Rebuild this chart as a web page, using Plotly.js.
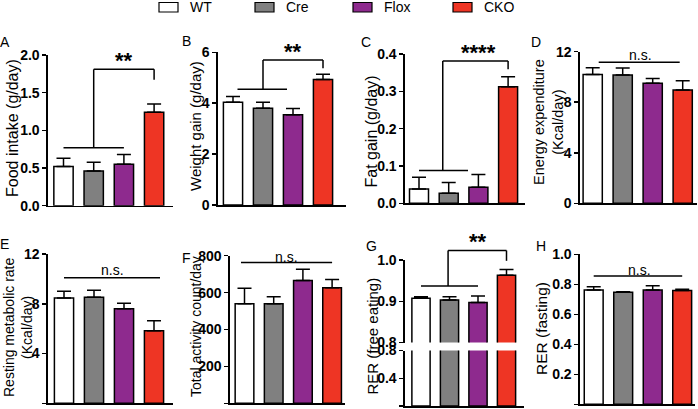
<!DOCTYPE html>
<html>
<head>
<meta charset="utf-8">
<script src="https://cdn.plot.ly/plotly-3.0.1.min.js"></script>
<style>
  html, body { margin: 0; padding: 0; background: #fff; }
  #chart { width: 698px; height: 409px; }
</style>
</head>
<body>
<div id="chart"></div>
<script>
// groups
const groups = ['WT', 'Cre', 'Flox', 'CKO'];
const groupColors = ['#ffffff', '#808080', '#8e2a8e', '#ee3524'];

// mean and SEM per panel
const foodIntake = [0.52, 0.46, 0.55, 1.24];
const foodIntakeSem = [0.11, 0.115, 0.13, 0.11];
const weightGain = [4.04, 3.80, 3.55, 4.93];
const weightGainSem = [0.22, 0.24, 0.24, 0.21];
const fatGain = [0.038, 0.027, 0.043, 0.312];
const fatGainSem = [0.032, 0.029, 0.034, 0.027];
const energyExp = [10.2, 10.16, 9.5, 8.97];
const energyExpSem = [0.53, 0.54, 0.37, 0.73];
const restingRate = [8.46, 8.52, 7.6, 5.84];
const restingRateSem = [0.54, 0.56, 0.44, 0.8];
const activity = [540, 540, 666, 626];
const activitySem = [83, 38, 61, 45];
const rerFree = [0.907, 0.903, 0.897, 0.963];
const rerFreeSem = [0.004, 0.008, 0.016, 0.014];
const rerFasting = [0.762, 0.747, 0.762, 0.758];
const rerFastingSem = [0.022, 0.004, 0.029, 0.009];

const W = 698, H = 409;
const px = v => v / W;
const py = v => 1 - v / H;
const FONT = 'Arial, Liberation Sans, sans-serif';

// panel layout: axis pixels, first bar centre, bar step
const panels = [
  {id: 1, letter: 'A', vals: foodIntake, sem: foodIntakeSem, c0: 63.5, step: 30.2, x0: 48, x1: 173, top: 55, bot: 205.7, range: [0, 2], dtick: 0.5, dec: 1,
   title: 'Food intake (g/day)', ts: 16, tx: 12, ty: 128, lx: 5, ly: 42},
  {id: 2, letter: 'B', vals: weightGain, sem: weightGainSem, c0: 233, step: 30, x0: 218, x1: 346, top: 52.3, bot: 205, range: [0, 6], dtick: 2, dec: 0,
   title: 'Weight gain (g/day)', ts: 15, tx: 196, ty: 126, lx: 186, ly: 41},
  {id: 3, letter: 'C', vals: fatGain, sem: fatGainSem, c0: 419, step: 29.7, x0: 405, x1: 525, top: 54, bot: 203.3, range: [0, 0.4], dtick: 0.1, dec: 1,
   title: 'Fat gain (g/day)', ts: 16, tx: 371.5, ty: 132, lx: 366, ly: 42},
  {id: 4, letter: 'D', vals: energyExp, sem: energyExpSem, c0: 592.7, step: 30, x0: 580, x1: 697, top: 51.7, bot: 203.3, range: [0, 12], dtick: 4, dec: 0,
   title: 'Energy expenditure<br>(Kcal/day)', ts: 14.5, tx: 549, ty: 122, lx: 536, ly: 42},
  {id: 5, letter: 'E', vals: restingRate, sem: restingRateSem, c0: 64, step: 30, x0: 48, x1: 173, top: 254, bot: 403.3, range: [0, 12], dtick: 4, dec: 0,
   title: 'Resting metabolic rate<br>(Kcal/day)', ts: 14, tx: 17.5, ty: 327.5, lx: 4, ly: 244},
  {id: 6, letter: 'F', vals: activity, sem: activitySem, c0: 244.5, step: 29.2, x0: 230, x1: 345, top: 255.7, bot: 403.3, range: [0, 800], dtick: 200, dec: 0,
   title: 'Total activity count/day', ts: 14, tx: 196, ty: 327, lx: 186.5, ly: 257.5},
  {id: 7, letter: 'G', vals: rerFree, sem: rerFreeSem, c0: 421, step: 28.5, x0: 405, x1: 524, top: 260, bot: 342.5, range: [0.8, 1.0], dtick: 0.1, dec: 1,
   title: 'RER (free eating)', ts: 15, tx: 371.5, ty: 336, lx: 371, ly: 246},
  {id: 8, letter: 'H', vals: rerFasting, sem: rerFastingSem, c0: 593.7, step: 29.5, x0: 580, x1: 695, top: 254.3, bot: 404.3, range: [0, 1], dtick: 0.2, dec: 1,
   title: 'RER (fasting)', ts: 15.5, tx: 541.5, ty: 328.5, lx: 541, ly: 246}
];
// lower segment of the broken axis in G
const gLower = {top: 350.5, bot: 406, range: [0, 0.8], dtick: 0.4, dec: 1};

// significance brackets and n.s. lines (category units, data values)
const brackets = [
  {p: 1, lo: [0, 2], ly: 0.77, stem: 1, top: 1.81, drop: 1.67, text: '**', tx: 2, ty: 1.93},
  {p: 2, lo: [0.15, 1.8], ly: 4.55, stem: 1, top: 5.7, drop: 5.37, text: '**', tx: 2, ty: 6.05},
  {p: 3, lo: [0, 1.65], ly: 0.088, stem: 0.8, top: 0.381, drop: 0.359, text: '****', tx: 2, ty: 0.403},
  {p: 7, lo: [0, 2], ly: 0.937, stem: 0.95, top: 1.023, drop: 0.998, text: '**', tx: 2, ty: 1.044}
];
const nsLines = [
  {p: 4, lo: [0.2, 2.9], ly: 11.16, tx: 1.6, ty: 11.75},
  {p: 5, lo: [0, 3.2], ly: 10.1, tx: 1.6, ty: 10.7},
  {p: 6, lo: [-0.12, 3.0], ly: 763, tx: 1.45, ty: 795},
  {p: 8, lo: [0, 3], ly: 0.856, tx: 1.55, ty: 0.895}
];

const xcat = [0, 1, 2, 3];
const traces = [];
const layout = {
  width: W, height: H,
  margin: {l: 0, r: 0, t: 0, b: 0},
  paper_bgcolor: '#fff', plot_bgcolor: 'rgba(0,0,0,0)',
  showlegend: false,
  bargap: 0.36,
  font: {family: FONT, color: '#000'},
  shapes: [], annotations: []
};

function barTrace(p, xa, ya) {
  return {
    type: 'bar', x: xcat, y: p.vals, xaxis: xa, yaxis: ya,
    width: 0.64,
    marker: {color: groupColors, line: {color: '#000', width: 1.5}},
    error_y: {type: 'data', symmetric: false, array: p.sem, arrayminus: [0, 0, 0, 0],
              color: '#000', thickness: 1.5, width: 7},
    hoverinfo: 'skip'
  };
}

function yAxis(p, top, bot, anchor) {
  const vals = [];
  for (let v = p.range[0]; v <= p.range[1] + 1e-9; v += p.dtick) vals.push(+v.toFixed(6));
  return {
    domain: [py(bot), py(top)], range: p.range, anchor: anchor,
    showline: true, linewidth: 1.6, linecolor: '#000',
    ticks: 'outside', ticklen: 4, tickwidth: 1.5, tickcolor: '#000',
    tickmode: 'array', tickvals: vals,
    ticktext: vals.map(v => '<b>' + v.toFixed(p.dec) + '</b>'),
    tickfont: {family: FONT, size: 14, weight: 'bold', color: '#000'},
    showgrid: false, zeroline: false, fixedrange: true
  };
}

panels.forEach(p => {
  const xa = 'x' + p.id, ya = 'y' + p.id;
  traces.push(barTrace(p, xa, ya));
  const xr = [(p.x0 - p.c0) / p.step, (p.x1 - p.c0) / p.step];
  layout['xaxis' + p.id] = {
    domain: [px(p.x0), px(p.x1)], range: xr, anchor: p.id === 7 ? 'y9' : ya,
    showline: true, linewidth: 1.6, linecolor: '#000',
    showticklabels: false, ticks: '', showgrid: false, zeroline: false, fixedrange: true
  };
  layout['yaxis' + p.id] = yAxis(p, p.top, p.bot, xa);

  layout.annotations.push({
    xref: 'paper', yref: 'paper', x: px(p.tx), y: py(p.ty),
    text: p.title, textangle: -90, showarrow: false,
    xanchor: 'center', yanchor: 'middle',
    font: {family: FONT, size: p.ts, color: '#000'}
  });
  layout.annotations.push({
    xref: 'paper', yref: 'paper', x: px(p.lx), y: py(p.ly),
    text: p.letter, showarrow: false, xanchor: 'center', yanchor: 'middle',
    font: {family: FONT, size: 14, color: '#000'}
  });
});

// broken axis: lower part of G
const g = panels[6];
traces.push(barTrace(g, 'x7', 'y9'));
layout.yaxis9 = yAxis(gLower, gLower.top, gLower.bot, 'x7');

// value -> fraction of y domain, so marks above the range are still drawn
function yDom(pid, v) {
  const r = layout['yaxis' + pid].range;
  return (v - r[0]) / (r[1] - r[0]);
}
function seg(pid, xa, xb, ya, yb) {
  layout.shapes.push({
    type: 'line', xref: 'x' + pid, yref: 'y' + pid + ' domain',
    x0: xa, x1: xb, y0: yDom(pid, ya), y1: yDom(pid, yb),
    line: {color: '#000', width: 1.5}
  });
}
function label(pid, x, y, text, font) {
  layout.annotations.push({
    xref: 'x' + pid, yref: 'y' + pid + ' domain', x: x, y: yDom(pid, y), text: text,
    showarrow: false, xanchor: 'center', yanchor: 'middle', font: font
  });
}

brackets.forEach(b => {
  seg(b.p, b.lo[0], b.lo[1], b.ly, b.ly);
  seg(b.p, b.stem, b.stem, b.ly, b.top);
  seg(b.p, b.stem, 3, b.top, b.top);
  seg(b.p, 3, 3, b.top, b.drop);
  label(b.p, b.tx, b.ty, b.text, {family: FONT, size: 22, weight: 'bold', color: '#000'});
});

nsLines.forEach(n => {
  seg(n.p, n.lo[0], n.lo[1], n.ly, n.ly);
  label(n.p, n.tx, n.ty, 'n.s.', {family: FONT, size: 14, color: '#000'});
});

// legend across the top
const legendX = [159, 255, 353, 453];
groups.forEach((name, i) => {
  layout.shapes.push({
    type: 'rect', xref: 'paper', yref: 'paper',
    x0: px(legendX[i]), x1: px(legendX[i] + 19), y0: py(12), y1: py(2.5),
    fillcolor: groupColors[i], line: {color: '#000', width: 1.2}
  });
  layout.annotations.push({
    xref: 'paper', yref: 'paper', x: px(legendX[i] + 29), y: py(7.5),
    text: name, showarrow: false, xanchor: 'left', yanchor: 'middle',
    font: {family: FONT, size: 14, color: '#000'}
  });
});

Plotly.newPlot('chart', traces, layout, {staticPlot: true, displayModeBar: false});
</script>
</body>
</html>
